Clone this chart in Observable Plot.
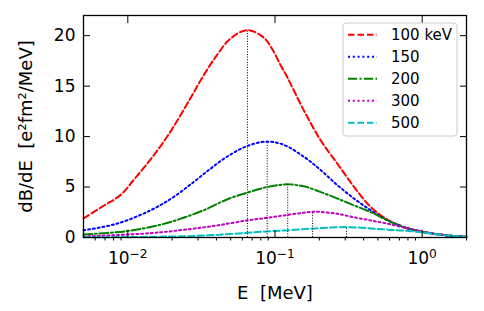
<!DOCTYPE html>
<html><head><meta charset="utf-8">
<script src="https://cdn.jsdelivr.net/npm/d3@7"></script>
<script src="https://cdn.jsdelivr.net/npm/@observablehq/plot@0.6"></script>
<style>
body{margin:0;background:#fff;font-family:"DejaVu Sans",sans-serif;}
#chart{position:relative;width:484px;height:311px;}
#chart svg text{white-space:pre;}
#legend{position:absolute;left:0;top:0;pointer-events:none;}
</style></head><body><div id="chart"></div>
<script>
// ---- data ----
const seriesLabels = ["100 keV", "150", "200", "300", "500"];
const curve100 = [[0.005,1.9],[0.0069,3.17],[0.0089,4.2],[0.0109,5.65],[0.0135,7.3],[0.0166,9.0],[0.0205,11.0],[0.0265,13.75],[0.0327,16.06],[0.0402,18.04],[0.0496,19.69],[0.065,20.55],[0.084,19.8],[0.095,18.75],[0.109,17.1],[0.121,15.9],[0.157,12.6],[0.205,9.6],[0.266,7.3],[0.345,5.0],[0.449,3.0],[0.583,1.75],[0.757,1.02],[0.98,0.58],[1.28,0.3],[1.6,0.15],[2.0,0.05]];
const curve150 = [[0.005,0.72],[0.0084,1.36],[0.0142,2.68],[0.0204,4.0],[0.0279,5.48],[0.0363,6.8],[0.0471,8.0],[0.0643,9.05],[0.0875,9.5],[0.114,9.2],[0.157,8.0],[0.205,6.66],[0.266,5.17],[0.345,3.85],[0.449,2.68],[0.583,1.7],[0.757,1.02],[0.98,0.6],[1.28,0.32],[1.6,0.16],[2.0,0.06]];
const curve200 = [[0.005,0.3],[0.0098,0.63],[0.0166,1.26],[0.0239,1.95],[0.0344,2.84],[0.0471,3.77],[0.0643,4.43],[0.0879,4.99],[0.114,5.25],[0.122,5.28],[0.157,5.07],[0.205,4.5],[0.266,3.85],[0.345,3.18],[0.449,2.5],[0.583,1.68],[0.757,1.0],[0.98,0.6],[1.28,0.32],[1.6,0.16],[2.0,0.06]];
const curve300 = [[0.005,0.1],[0.0142,0.43],[0.0239,0.76],[0.0402,1.19],[0.0643,1.69],[0.0879,1.95],[0.114,2.18],[0.157,2.46],[0.18,2.55],[0.205,2.53],[0.266,2.35],[0.345,2.0],[0.449,1.69],[0.583,1.36],[0.757,0.98],[0.98,0.62],[1.28,0.32],[1.6,0.16],[2.0,0.06]];
const curve500 = [[0.005,0.02],[0.0098,0.05],[0.0239,0.12],[0.0402,0.26],[0.0643,0.46],[0.0879,0.6],[0.114,0.69],[0.157,0.83],[0.205,0.93],[0.306,1.03],[0.449,0.9],[0.583,0.78],[0.757,0.68],[0.98,0.52],[1.28,0.3],[1.6,0.16],[2.0,0.07]];
const peakE = [0.065, 0.0885, 0.122, 0.18, 0.306];
const peakV = [20.55, 9.5, 5.28, 2.55, 1.03];
const xTicks = [0.01, 0.1, 1];
const xTickLabels = ["−2", "−1", "0"];
const xMinorTicks = [0.006,0.007,0.008,0.009,0.02,0.03,0.04,0.05,0.06,0.07,0.08,0.09,0.2,0.3,0.4,0.5,0.6,0.7,0.8,0.9,2];
const yTicks = [0, 5, 10, 15, 20];
const yLabel = "dB/dE  [e²fm²/MeV]";
const xLabel = "E  [MeV]";

// ---- styles ----
const curves = [curve100, curve150, curve200, curve300, curve500];
const colors = ["#ff0000", "#0000ff", "#008000", "#bf00bf", "#00bfbf"];
const dashes = ["6.5,3", "2,2.8", "9,2.5,2,2.5", "2,2.8", "6.5,3"];
const peaks = peakE.map((e, i) => ({e, v: peakV[i]}));

const lineMarks = curves.map((c, i) => Plot.line(c, {
  x: d => d[0], y: d => d[1], stroke: colors[i], strokeWidth: 2,
  strokeDasharray: dashes[i], curve: "catmull-rom"
}));

const plot = Plot.plot({
  width: 484, height: 311,
  marginLeft: 83, marginRight: 18, marginTop: 15, marginBottom: 74,
  style: {fontFamily: "DejaVu Sans", fontSize: "17px", background: "white", overflow: "visible", color: "black"},
  x: {type: "log", domain: [0.005, 2]},
  y: {domain: [0, 22]},
  marks: [
    ...lineMarks,
    Plot.ruleX(peaks, {x: "e", y1: 0, y2: "v", stroke: "#000", strokeWidth: 1, strokeDasharray: "1,1.6"}),
    Plot.axisY(yTicks, {anchor: "left", tickSize: 0, tickPadding: 8, fontSize: 17, label: null}),
    Plot.axisY(yTicks, {anchor: "left", tickSize: 7, dx: 7, fill: "none", label: null}),
    Plot.axisY(yTicks, {anchor: "right", tickSize: 7, dx: -7, fill: "none", label: null}),
    Plot.axisX(xTicks, {anchor: "top", tickSize: 7, dy: 7, fill: "none", label: null}),
    Plot.axisX(xTicks, {anchor: "bottom", tickSize: 7, dy: -7, fill: "none", label: null}),
    Plot.axisX(xMinorTicks, {anchor: "bottom", tickSize: 3.5, fill: "none", label: null}),
    Plot.axisX(xTicks, {anchor: "bottom", tickSize: 0, tickPadding: 14, fontSize: 17, label: null,
      tickFormat: d => "10^" + xTickLabels[xTicks.indexOf(d)]}),
    Plot.text([yLabel], {frameAnchor: "left", dx: -57, rotate: -90, fontSize: 18, textAnchor: "middle", lineAnchor: "middle", text: d => d}),
    Plot.text([xLabel], {frameAnchor: "bottom", dy: 56, fontSize: 18, textAnchor: "middle", lineAnchor: "middle", text: d => d}),
    Plot.frame({stroke: "black", strokeWidth: 1.3})
  ]
});

// superscripts for x tick labels
d3.select(plot).selectAll('g[aria-label="x-axis tick label"] text').each(function() {
  const t = this.textContent;
  if (!t.includes("^")) return;
  const [base, exp] = t.split("^");
  this.textContent = "";
  const sel = d3.select(this);
  sel.append("tspan").text(base);
  sel.append("tspan").attr("dy", "-0.45em").attr("font-size", "0.72em").text(exp);
});

const chart = document.getElementById("chart");
chart.appendChild(plot);

// legend overlay
const leg = d3.select(chart).append("svg").attr("id", "legend").attr("width", 484).attr("height", 311);
leg.append("rect").attr("x", 343).attr("y", 23).attr("width", 114).attr("height", 113).attr("rx", 3)
  .attr("fill", "rgba(255,255,255,0.8)").attr("stroke", "#cccccc").attr("stroke-width", 1);
seriesLabels.forEach((lab, i) => {
  const y = 34.7 + i * 22;
  leg.append("line").attr("x1", 348).attr("x2", 377).attr("y1", y).attr("y2", y)
    .attr("stroke", colors[i]).attr("stroke-width", 2).attr("stroke-dasharray", dashes[i]);
  leg.append("text").attr("x", 391).attr("y", y).attr("dy", "0.35em")
    .attr("font-family", "DejaVu Sans").attr("font-size", 15).attr("fill", "black").text(lab);
});
</script></body></html>
